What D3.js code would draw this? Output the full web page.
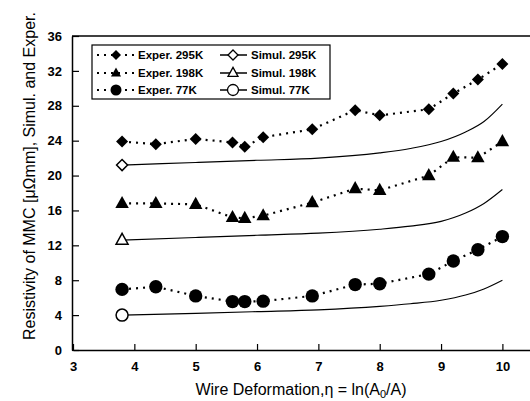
<!DOCTYPE html>
<html><head><meta charset="utf-8">
<script src="https://cdn.jsdelivr.net/npm/d3@7"></script>
<style>body{margin:0;background:#fff}svg{display:block}text{font-family:"Liberation Sans",Arial,sans-serif}</style>
</head><body><svg id="c" width="530" height="401"></svg>
<script>
const expX = [3.8, 4.35, 5.0, 5.6, 5.8, 6.1, 6.9, 7.6, 8.0, 8.8, 9.2, 9.6, 10.0];
const exp295 = [23.9, 23.6, 24.2, 23.8, 23.3, 24.4, 25.3, 27.5, 26.9, 27.6, 29.4, 31.0, 32.8];
const exp198 = [16.8, 16.8, 16.7, 15.2, 15.1, 15.4, 16.9, 18.5, 18.3, 20.0, 22.1, 22.05, 23.9];
const exp77  = [6.95, 7.25, 6.2, 5.55, 5.55, 5.6, 6.2, 7.5, 7.6, 8.7, 10.2, 11.5, 13.0];
const simX = [3.8, 5, 6, 7, 8, 8.5, 9, 9.4, 9.7, 10];
const sim295 = [21.2, 21.5, 21.75, 22.0, 22.6, 23.1, 23.9, 25.0, 26.2, 28.2];
const sim198 = [12.6, 12.9, 13.15, 13.4, 13.85, 14.2, 14.75, 15.7, 16.8, 18.4];
const sim77  = [4.0, 4.2, 4.4, 4.6, 5.0, 5.3, 5.7, 6.3, 7.0, 8.0];
const xTicks = [3, 4, 5, 6, 7, 8, 9, 10];
const yTicks = [0, 4, 8, 12, 16, 20, 24, 28, 32, 36];
const expLabels = ["Exper. 295K", "Exper. 198K", "Exper. 77K"];
const simLabels = ["Simul. 295K", "Simul. 198K", "Simul. 77K"];

const svg = d3.select("#c");
const L = 72, R = 530, T = 36, B = 350;
const x = d3.scaleLinear().domain([3, 10.45]).range([L + 1, R]);
const y = d3.scaleLinear().domain([0, 36]).range([B, T]);

// axes
const xa = svg.append("g").attr("transform", `translate(0,${B})`)
  .call(d3.axisBottom(x).tickValues(xTicks).tickSizeInner(-6).tickSizeOuter(0).tickPadding(12));
const ya = svg.append("g").attr("transform", `translate(${L},0)`)
  .call(d3.axisLeft(y).tickValues(yTicks).tickSizeInner(-7).tickSizeOuter(0).tickPadding(10));
[xa, ya].forEach(a => {
  a.select(".domain").attr("stroke", "#000").attr("stroke-width", 1.5);
  a.selectAll(".tick line").attr("stroke", "#000").attr("stroke-width", 1.2);
  a.selectAll(".tick text").attr("font-size", 13).attr("font-weight", "bold").attr("fill", "#000");
});
svg.append("line").attr("x1", L).attr("x2", R).attr("y1", T).attr("y2", T).attr("stroke", "#000").attr("stroke-width", 1.5);

function diamondPath(r){ return `M0,${-r}L${r},0L0,${r}L${-r},0Z`; }
function triPath(s){ const h = s*0.9; return `M0,${-h*0.62}L${s/2},${h*0.38}L${-s/2},${h*0.38}Z`; }
function circPath(r){ return d3.arc()({innerRadius:0,outerRadius:r,startAngle:0,endAngle:2*Math.PI}); }
const bigShapes = [() => diamondPath(6), () => triPath(13.5), () => circPath(6.7)];
const openShapes = [() => diamondPath(5.5), () => triPath(12), () => circPath(6)];
const legShapes = [() => diamondPath(5), () => triPath(10), () => circPath(5.5)];

const exps = [exp295, exp198, exp77];
const sims = [sim295, sim198, sim77];

const line = d3.line().x(d => x(d[0])).y(d => y(d[1]));
const sline = d3.line().x(d => x(d[0])).y(d => y(d[1])).curve(d3.curveMonotoneX);

sims.forEach((s, i) => {
  const pts = simX.map((v, j) => [v, s[j]]);
  svg.append("path").attr("d", sline(pts)).attr("fill", "none").attr("stroke", "#000").attr("stroke-width", 1.1);
  svg.append("path").attr("d", openShapes[i]()).attr("transform", `translate(${x(simX[0])},${y(s[0])})`)
    .attr("fill", "#fff").attr("stroke", "#000").attr("stroke-width", 1.5);
});

exps.forEach((s, i) => {
  const pts = expX.map((v, j) => [v, s[j]]);
  svg.append("path").attr("d", line(pts)).attr("fill", "none").attr("stroke", "#000")
    .attr("stroke-width", 2.2).attr("stroke-dasharray", "2,5");
  svg.selectAll(null).data(pts).enter().append("path").attr("d", bigShapes[i]())
    .attr("transform", d => `translate(${x(d[0])},${y(d[1])})`).attr("fill", "#000");
});

// legend
const lg = svg.append("g");
lg.append("rect").attr("x", 92).attr("y", 45).attr("width", 238).attr("height", 54)
  .attr("fill", "#fff").attr("stroke", "#000").attr("stroke-width", 1.2);
[55, 73, 90].forEach((ry, i) => {
  lg.append("line").attr("x1", 97).attr("x2", 135).attr("y1", ry).attr("y2", ry)
    .attr("stroke", "#000").attr("stroke-width", 2.2).attr("stroke-dasharray", "2,5");
  lg.append("path").attr("d", legShapes[i]()).attr("transform", `translate(116,${ry})`).attr("fill", "#000");
  lg.append("text").attr("x", 138).attr("y", ry + 4).attr("font-size", 11.5).attr("font-weight", "bold").text(expLabels[i]);
  lg.append("line").attr("x1", 220).attr("x2", 247).attr("y1", ry).attr("y2", ry).attr("stroke", "#000").attr("stroke-width", 1.5);
  lg.append("path").attr("d", legShapes[i]()).attr("transform", `translate(233,${ry})`)
    .attr("fill", "#fff").attr("stroke", "#000").attr("stroke-width", 1.3);
  lg.append("text").attr("x", 251).attr("y", ry + 4).attr("font-size", 11.5).attr("font-weight", "bold").text(simLabels[i]);
});

// titles
svg.append("text").attr("transform", "translate(35,176) rotate(-90)").attr("text-anchor", "middle")
  .attr("font-size", 16).text("Resistivity of MMC [μΩmm], Simul. and Exper.");
const xt = svg.append("text").attr("x", 301).attr("y", 395).attr("text-anchor", "middle").attr("font-size", 16);
xt.append("tspan").text("Wire Deformation,η = ln(A");
xt.append("tspan").attr("font-size", 11).attr("dy", 3).text("0");
xt.append("tspan").attr("dy", -3).text("/A)");
</script></body></html>
